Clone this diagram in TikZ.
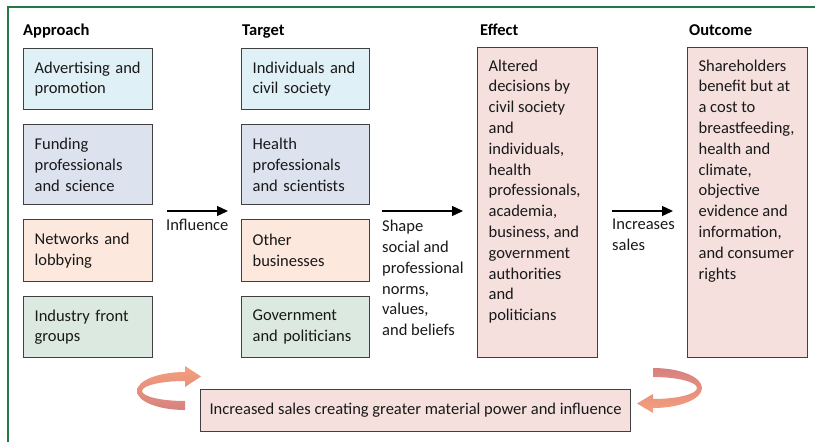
\documentclass[tikz,border=0pt]{standalone}
\usepackage{fontspec}
\setmainfont{Carlito}
\usetikzlibrary{arrows.meta,shadings}
\definecolor{frameg}{HTML}{237A45}
\definecolor{cblue}{HTML}{DFF0F6}
\definecolor{clav}{HTML}{DDE2EF}
\definecolor{cpeach}{HTML}{FDE8DE}
\definecolor{cgreen}{HTML}{DBE9E1}
\definecolor{cpink}{HTML}{F5E0DE}
\definecolor{bord}{HTML}{404040}
\definecolor{orng}{HTML}{F5A07E}
\definecolor{dpink}{HTML}{D7817F}
\tikzset{
  x=1pt,y=1pt,
  txt/.style={font=\fontsize{16.5pt}{20.8pt}\selectfont, text=black!90},
  hdr/.style={font=\fontsize{16.5pt}{20.8pt}\selectfont\bfseries, inner sep=0pt, anchor=base west},
  box/.style={txt, draw=bord, line width=1.2pt, anchor=north west, align=left, inner xsep=11pt, inner ysep=0pt},
  bw129/.style={box, minimum width=129pt, text width=107pt},
  bw128/.style={box, minimum width=128pt, text width=106pt},
  tallbox/.style={txt, draw=bord, line width=1.2pt, fill=cpink, anchor=north west, inner xsep=11pt, inner ysep=12pt},
  lbl/.style={txt, anchor=north west, inner sep=0pt, align=left},
  arr/.style={line width=1.3pt, -{Triangle[length=11pt,width=10pt]}},
  frame/.style={draw=frameg, line width=1.3pt}
}
\begin{document}
\begin{tikzpicture}
\useasboundingbox (0,0) rectangle (815,-442);
\draw[frame] (8,-442) -- (8,-7) -- (815,-7);

% headers
\node[hdr] (hA) at (23,-35) {Approach};
\node[hdr] (hT) at (242,-35) {Target};
\node[hdr] (hE) at (480,-35) {Effect};
\node[hdr] (hO) at (689,-35) {Outcome};

% approach
\node[bw129, fill=cblue, minimum height=61pt] (a1) at (23,-48) {Advertising and\\promotion};
\node[bw129, fill=clav, minimum height=80pt] (a2) at (23,-124) {Funding\\professionals\\and science};
\node[bw129, fill=cpeach, minimum height=62pt] (a3) at (23,-219) {Networks and\\lobbying};
\node[bw129, fill=cgreen, minimum height=61pt] (a4) at (23,-296) {Industry front\\groups};

% target
\node[bw128, fill=cblue, minimum height=61pt] (t1) at (241,-48) {Individuals and\\civil society};
\node[bw128, fill=clav, minimum height=80pt] (t2) at (241,-124) {Health\\professionals\\and scientists};
\node[bw128, fill=cpeach, minimum height=62pt] (t3) at (241,-219) {Other\\businesses};
\node[bw128, fill=cgreen, minimum height=61pt] (t4) at (241,-296) {Government\\and politicians};

% effect / outcome
\node[tallbox] (eff) at (477,-47) {\parbox[t][286pt][t]{98pt}{\raggedright Altered\\decisions by\\civil society\\and\\individuals,\\health\\professionals,\\academia,\\business, and\\government\\authorities\\and\\politicians}};
\node[tallbox] (out) at (687,-47) {\parbox[t][286pt][t]{98pt}{\raggedright Shareholders\\benefit but at\\a cost to\\breastfeeding,\\health and\\climate,\\objective\\evidence and\\information,\\and consumer\\rights}};

% bottom box
\node[txt, draw=bord, line width=1.2pt, fill=cpink, minimum width=430pt, minimum height=42pt, anchor=north west] (bot) at (200,-389) {Increased sales creating greater material power and influence};

% arrows
\coordinate (i1) at (167,-211);
\coordinate (i2) at (228,-211);
\coordinate (s1) at (382,-211);
\coordinate (s2) at (463,-211);
\coordinate (c1) at (612,-211);
\coordinate (c2) at (673,-211);
\draw[arr] (i1) -- (i2);
\draw[arr] (s1) -- (s2);
\draw[arr] (c1) -- (c2);

\node[lbl] (linf) at (166,-219) {Influence};
\node[lbl] (lsh) at (382,-220) {Shape\\social and\\professional\\norms,\\values,\\and beliefs};
\node[lbl] (linc) at (612,-219) {Increases\\sales};

% curved arrows
\shade[top color=orng, bottom color=dpink]
  (185,-410) arc[start angle=270, end angle=90, x radius=48, y radius=19]
  -- (185,-366) -- (201,-376.5) -- (185,-387) -- (185,-381)
  arc[start angle=90, end angle=270, x radius=43, y radius=10] -- cycle;
\shade[top color=dpink, bottom color=orng]
  (653,-368) arc[start angle=90, end angle=-90, x radius=49, y radius=20]
  -- (653,-413) -- (637,-403.5) -- (653,-394) -- (653,-399)
  arc[start angle=-90, end angle=90, x radius=44, y radius=11] -- cycle;
\end{tikzpicture}
\end{document}
